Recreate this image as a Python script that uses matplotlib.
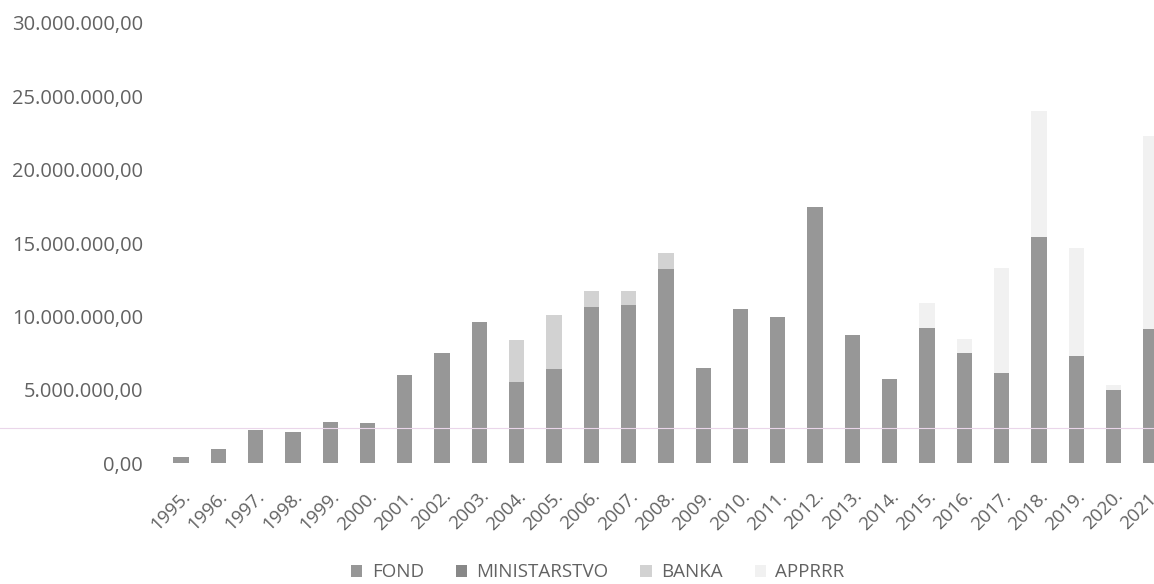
import matplotlib
matplotlib.use("Agg")
import matplotlib.pyplot as plt
from matplotlib.lines import Line2D
from matplotlib.ticker import FuncFormatter
import numpy as np

years = [f"{y}." for y in range(1995, 2022)]
fond = [0.40, 1.00, 2.27, 2.10, 2.80, 2.77, 6.00, 7.54, 9.61, 5.52, 6.40, 10.67, 10.79, 13.22,
        6.52, 10.50, 10.00, 17.45, 8.77, 5.73, 9.22, 7.54, 6.13, 15.45, 7.31, 5.00, 9.13]
ministarstvo = [0.0] * 27
banka = [0, 0, 0, 0, 0, 0, 0, 0, 0, 2.88, 3.70, 1.08, 0.96, 1.14,
         0, 0, 0, 0, 0, 0, 0, 0, 0, 0, 0, 0, 0]
apprrr = [0, 0, 0, 0, 0, 0, 0, 0, 0, 0, 0, 0, 0, 0,
          0, 0, 0, 0, 0, 0, 1.70, 0.96, 7.17, 8.55, 7.39, 0.30, 13.17]
fond = np.array(fond) * 1e6
ministarstvo = np.array(ministarstvo) * 1e6
banka = np.array(banka) * 1e6
apprrr = np.array(apprrr) * 1e6

font = "Open Sans"
txt = "#626262"

fig = plt.figure(figsize=(11.54, 5.84), dpi=100)
ax = fig.add_axes([0.1407, 0.2067, 0.8727, 0.754])
x = np.arange(len(years))
w = 0.41
b1 = ax.bar(x, fond, w, color="#979797", label="FOND")
b2 = ax.bar(x, ministarstvo, w, bottom=fond, color="#888888", label="MINISTARSTVO")
b3 = ax.bar(x, banka, w, bottom=fond + ministarstvo, color="#d2d2d2", label="BANKA")
b4 = ax.bar(x, apprrr, w, bottom=fond + ministarstvo + banka, color="#f1f1f1", label="APPRRR")

ax.set_xlim(-0.5, len(years) - 0.5)
ax.set_ylim(0, 30e6)
ax.set_yticks(np.arange(0, 30e6 + 1, 5e6))
ax.yaxis.set_major_formatter(FuncFormatter(
    lambda v, p: f"{v:,.2f}".replace(",", "X").replace(".", ",").replace("X", ".")))
ax.set_xticks(x)
ax.set_xticklabels(years, rotation=45, ha="right", rotation_mode="anchor")
ax.tick_params(axis="both", length=0, labelcolor=txt)
ax.tick_params(axis="y", pad=14, labelsize=14.5)
ax.tick_params(axis="x", pad=17, labelsize=13.5)
for lab in ax.get_xticklabels() + ax.get_yticklabels():
    lab.set_fontfamily(font)
for s in ax.spines.values():
    s.set_visible(False)

fig.add_artist(Line2D([0, 1], [1 - 428 / 584, 1 - 428 / 584], transform=fig.transFigure,
                      color="#ead6ea", lw=0.8))

leg = fig.legend(handles=[b1, b2, b3, b4], loc="center", bbox_to_anchor=(0.518, 0.02),
                 ncol=4, frameon=False, prop={"family": font, "size": 13.5},
                 handlelength=0.6, handleheight=0.6, handletextpad=0.5, columnspacing=1.7)
for t in leg.get_texts():
    t.set_color(txt)

fig.savefig("out.png", dpi=100)
